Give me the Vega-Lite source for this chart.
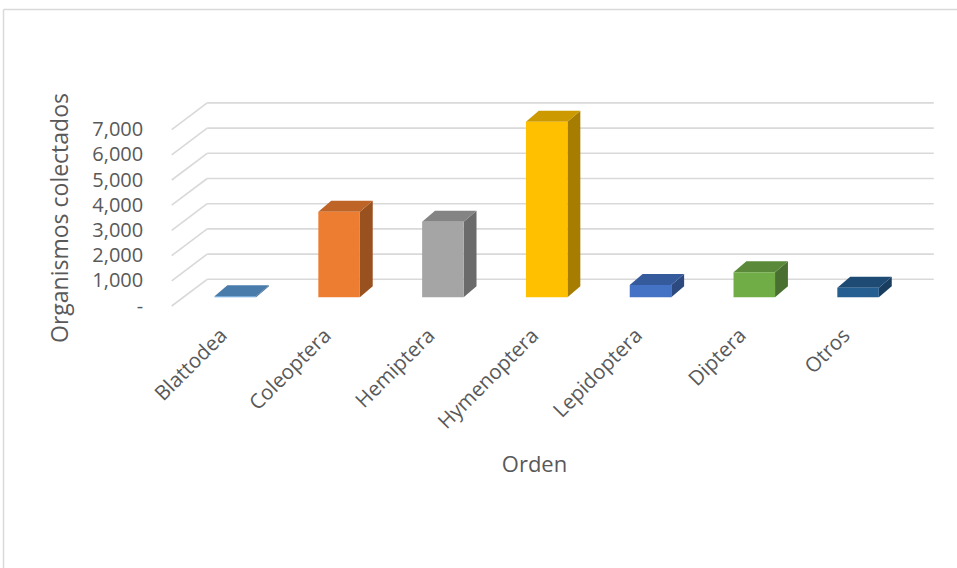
{
  "$schema": "https://vega.github.io/schema/vega-lite/v6.json",
  "width": 954,
  "height": 559,
  "autosize": {"type": "none"},
  "padding": {"left": 3, "top": 9, "right": 0, "bottom": 0},
  "background": "white",
  "config": {
    "view": {"stroke": null},
    "font": "Open Sans"
  },
  "resolve": {"scale": {"color": "independent"}, "axis": {"x": "independent", "y": "independent"}},
  "layer": [
    {
      "data": {"values": [{"g": 0}, {"g": 1000}, {"g": 2000}, {"g": 3000}, {"g": 4000}, {"g": 5000}, {"g": 6000}, {"g": 7000}]},
      "transform": [{"calculate": "datum.g + 1060", "as": "gb"}],
      "mark": {"type": "rule", "color": "#d9d9d9", "strokeWidth": 1.6},
      "encoding": {
        "x": {"datum": 0, "type": "quantitative", "scale": {"domain": [-1.6252, 7.5656], "nice": false, "zero": false},
          "axis": {"orient": "top", "offset": 0, "domain": true, "domainColor": "#d9d9d9", "domainWidth": 1.5, "labels": false, "ticks": false, "grid": false, "title": null}},
        "x2": {"datum": 0.3418},
        "y": {"field": "g", "type": "quantitative", "scale": {"domain": [-10397, 11786], "nice": false, "zero": false},
          "axis": {"orient": "left", "offset": 0, "domain": true, "domainColor": "#d9d9d9", "domainWidth": 1.5, "labels": false, "ticks": false, "grid": false, "title": null}},
        "y2": {"field": "gb"}
      }
    },
    {
      "data": {"values": [{"g": 0}, {"g": 1000}, {"g": 2000}, {"g": 3000}, {"g": 4000}, {"g": 5000}, {"g": 6000}, {"g": 7000}]},
      "transform": [{"calculate": "datum.g + 1060", "as": "gb"}],
      "mark": {"type": "rule", "color": "#d9d9d9", "strokeWidth": 1.6},
      "encoding": {
        "x": {"datum": 0.3418, "type": "quantitative", "scale": {"domain": [-1.6252, 7.5656], "nice": false, "zero": false}, "axis": null},
        "x2": {"datum": 7.3418},
        "y": {"field": "gb", "type": "quantitative", "scale": {"domain": [-10397, 11786], "nice": false, "zero": false}, "axis": null}
      }
    },
    {
      "data": {"name": "insectos", "values": [
        {"orden": "Blattodea", "organismos": 40},
        {"orden": "Coleoptera", "organismos": 3400},
        {"orden": "Hemiptera", "organismos": 3000},
        {"orden": "Hymenoptera", "organismos": 6970},
        {"orden": "Lepidoptera", "organismos": 490},
        {"orden": "Diptera", "organismos": 990},
        {"orden": "Otros", "organismos": 380}
      ]},
      "transform": [
        {"window": [{"op": "row_number", "as": "rn"}]},
        {"calculate": "datum.rn - 1", "as": "i"},
        {"calculate": "0", "as": "s0"},
        {"calculate": "1", "as": "s1"},
        {"fold": ["s0", "s1"], "as": ["k", "s"]},
        {"calculate": "datum.i + 0.6127 + 0.2 + datum.s * 0.124", "as": "xs"},
        {"calculate": "345 + datum.organismos + datum.s * 436", "as": "ytop"},
        {"calculate": "345 + datum.s * 436", "as": "ybot"}
      ],
      "mark": {"type": "area", "orient": "vertical"},
      "encoding": {
        "x": {"field": "xs", "type": "quantitative", "scale": {"domain": [-1.6252, 7.5656], "nice": false, "zero": false}, "axis": null},
        "y": {"field": "ytop", "type": "quantitative", "scale": {"domain": [-10397, 11786], "nice": false, "zero": false}, "axis": null},
        "y2": {"field": "ybot"},
        "color": {"field": "orden", "type": "nominal", "legend": null,
          "scale": {"domain": ["Blattodea", "Coleoptera", "Hemiptera", "Hymenoptera", "Lepidoptera", "Diptera", "Otros"],
                    "range": ["#3b658a", "#9a5120", "#6b6b6b", "#a67d00", "#2c4a7f", "#497030", "#183d5e"]}}
      }
    },
    {
      "data": {"name": "insectos"},
      "transform": [
        {"window": [{"op": "row_number", "as": "rn"}]},
        {"calculate": "datum.rn - 1", "as": "i"},
        {"calculate": "0", "as": "s0"},
        {"calculate": "1", "as": "s1"},
        {"fold": ["s0", "s1"], "as": ["k", "s"]},
        {"calculate": "datum.i + 0.6127 - 0.2 + datum.s * 0.124", "as": "xa"},
        {"calculate": "datum.i + 0.6127 + 0.2 + datum.s * 0.124", "as": "xb"},
        {"calculate": "345 + datum.organismos + datum.s * 436", "as": "yy"}
      ],
      "mark": {"type": "area", "orient": "horizontal"},
      "encoding": {
        "y": {"field": "yy", "type": "quantitative", "scale": {"domain": [-10397, 11786], "nice": false, "zero": false}, "axis": null},
        "x": {"field": "xa", "type": "quantitative", "scale": {"domain": [-1.6252, 7.5656], "nice": false, "zero": false}, "axis": null},
        "x2": {"field": "xb"},
        "color": {"field": "orden", "type": "nominal", "legend": null,
          "scale": {"domain": ["Blattodea", "Coleoptera", "Hemiptera", "Hymenoptera", "Lepidoptera", "Diptera", "Otros"],
                    "range": ["#497caa", "#be6427", "#848484", "#cc9a00", "#365b9d", "#5a8a39", "#1e4b74"]}}
      }
    },
    {
      "data": {"name": "insectos"},
      "transform": [
        {"window": [{"op": "row_number", "as": "rn"}]},
        {"calculate": "datum.rn - 1", "as": "i"},
        {"calculate": "datum.i + 0.6127 - 0.2", "as": "xl"},
        {"calculate": "datum.i + 0.6127 + 0.2", "as": "xr"},
        {"calculate": "345 + datum.organismos", "as": "yt"},
        {"calculate": "345", "as": "yb"}
      ],
      "mark": {"type": "rect"},
      "encoding": {
        "x": {"field": "xl", "type": "quantitative", "scale": {"domain": [-1.6252, 7.5656], "nice": false, "zero": false},
          "axis": {"orient": "bottom", "offset": -262, "values": [0.5, 1.5, 2.5, 3.5, 4.5, 5.5, 6.5],
            "labelExpr": "['Blattodea','Coleoptera','Hemiptera','Hymenoptera','Lepidoptera','Diptera','Otros'][round(datum.value - 0.5)]",
            "labelAngle": -45, "labelAlign": "right", "labelBaseline": "top", "labelPadding": 19, "labelOffset": -7, "labelFontSize": 20.5,
            "labelColor": "#595959", "labelOverlap": false, "labelFlush": false, "labelBound": false,
            "ticks": false, "domain": false, "grid": false,
            "title": "Orden", "titleFontSize": 22, "titleFontWeight": "normal", "titleColor": "#595959",
            "titleX": 531, "titleY": 165.5, "titleAlign": "center", "titleBaseline": "alphabetic", "titleAngle": 0}},
        "x2": {"field": "xr"},
        "y": {"field": "yt", "type": "quantitative", "scale": {"domain": [-10397, 11786], "nice": false, "zero": false},
          "axis": {"orient": "left", "offset": -168.7, "values": [0, 1000, 2000, 3000, 4000, 5000, 6000, 7000],
            "labelExpr": "datum.value === 0 ? '-\u00a0\u00a0' : format(datum.value, ',')",
            "labelPadding": 29, "labelFontSize": 20, "labelColor": "#595959", "labelAlign": "right", "labelBaseline": "middle",
            "ticks": false, "domain": false, "grid": false, "labelOverlap": false, "labelFlush": false,
            "title": "Organismos colectados", "titleFontSize": 23, "titleFontWeight": "normal", "titleColor": "#595959",
            "titleX": -104.7, "titleY": 208.5, "titleAngle": -90, "titleAlign": "center", "titleBaseline": "alphabetic"}},
        "y2": {"field": "yb"},
        "color": {"field": "orden", "type": "nominal", "legend": null,
          "scale": {"domain": ["Blattodea", "Coleoptera", "Hemiptera", "Hymenoptera", "Lepidoptera", "Diptera", "Otros"],
                    "range": ["#5b9bd5", "#ed7d31", "#a5a5a5", "#ffc000", "#4472c4", "#70ad47", "#255e91"]}}
      }
    }
  ]
}
